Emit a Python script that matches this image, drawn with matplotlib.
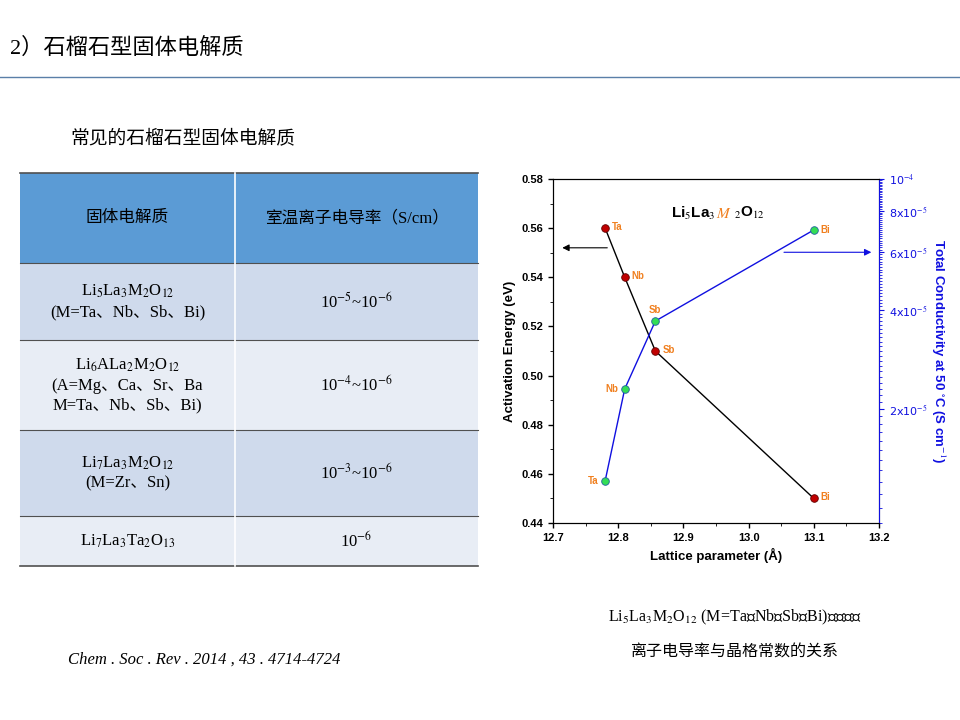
import matplotlib
matplotlib.use("Agg")
import matplotlib.pyplot as plt
from matplotlib.patches import Rectangle
from matplotlib.ticker import FixedLocator, NullFormatter

plt.rcParams["mathtext.fontset"] = "stix"
CN = ["Liberation Serif", "Noto Sans CJK SC"]
SANS = ["Liberation Sans", "DejaVu Sans"]

# ---- data ----
elements = ["Ta", "Nb", "Sb", "Bi"]
lattice = [12.78, 12.81, 12.857, 13.1]
act_energy = [0.56, 0.54, 0.51, 0.45]
conductivity = [1.21e-5, 2.3e-5, 3.7e-5, 7.0e-5]

table_header = ["固体电解质", "室温离子电导率（S/cm）"]
table_col1 = [
    "Li$_5$La$_3$M$_2$O$_{12}$\n(M=Ta、Nb、Sb、Bi)",
    "Li$_6$ALa$_2$M$_2$O$_{12}$\n(A=Mg、Ca、Sr、Ba\nM=Ta、Nb、Sb、Bi)",
    "Li$_7$La$_3$M$_2$O$_{12}$\n(M=Zr、Sn)",
    "Li$_7$La$_3$Ta$_2$O$_{13}$",
]
table_col2 = ["10$^{-5}$~10$^{-6}$", "10$^{-4}$~10$^{-6}$", "10$^{-3}$~10$^{-6}$", "10$^{-6}$"]

fig = plt.figure(figsize=(9.6, 7.2), dpi=100)
bg = fig.add_axes([0, 0, 1, 1])
bg.set_xlim(0, 960)
bg.set_ylim(720, 0)
bg.axis("off")

# title
bg.text(10, 48, "2）石榴石型固体电解质", fontsize=16, family=CN, va="center", ha="left")
bg.plot([0, 960], [77, 77], color="#5A7FA8", lw=1)
bg.text(70, 138, "常见的石榴石型固体电解质", fontsize=13.5, family=CN, va="center")

# table
rows = [173, 263, 340, 430, 516, 566]
x0, xm, x1 = 20, 235, 478
bg.add_patch(Rectangle((x0, rows[0]), x1 - x0, rows[1] - rows[0], fc="#5B9BD5", ec="none"))
fills = ["#CFDAEC", "#E8EDF5", "#CFDAEC", "#E8EDF5"]
for i in range(4):
    bg.add_patch(Rectangle((x0, rows[i + 1]), x1 - x0, rows[i + 2] - rows[i + 1],
                           fc=fills[i], ec="none"))
for y in rows:
    bg.plot([x0, x1], [y, y], color="#505050", lw=1.2 if y in (rows[0], rows[-1]) else 0.8)
bg.plot([xm, xm], [rows[0], rows[-1]], color="white", lw=1.2)
bg.text((x0 + xm) / 2, (rows[0] + rows[1]) / 2, table_header[0], family=CN, fontsize=12,
        ha="center", va="center")
bg.text((xm + x1) / 2, (rows[0] + rows[1]) / 2, table_header[1], family=CN, fontsize=12,
        ha="center", va="center")
for i in range(4):
    yc = (rows[i + 1] + rows[i + 2]) / 2
    bg.text((x0 + xm) / 2, yc, table_col1[i], family=CN, fontsize=12, ha="center",
            va="center", linespacing=1.3)
    bg.text((xm + x1) / 2, yc, table_col2[i], family=CN, fontsize=12, ha="center", va="center")

bg.text(68, 660, "Chem . Soc . Rev . 2014 , 43 . 4714-4724", family=CN, fontsize=12,
        style="italic", va="center")
bg.text(735, 617, "Li$_5$La$_3$M$_2$O$_{12}$ (M=Ta、Nb、Sb、Bi)活化能、", family=CN,
        fontsize=11.5, ha="center", va="center")
bg.text(735, 653, "离子电导率与晶格常数的关系", family=CN, fontsize=11.5, ha="center", va="center")

# chart
ax = fig.add_axes([553 / 960, 197 / 720, 326 / 960, 344 / 720])
ax.plot(lattice, act_energy, color="black", lw=1, zorder=2)
ax.scatter(lattice, act_energy, s=30, color="#C00000", edgecolors="#600000", lw=0.6, zorder=3)
ax.set_xlim(12.7, 13.2)
ax.set_ylim(0.44, 0.58)
ax.set_xticks([12.7, 12.8, 12.9, 13.0, 13.1, 13.2])
ax.set_xticks([12.75, 12.85, 12.95, 13.05, 13.15], minor=True)
ax.set_yticks([0.44, 0.46, 0.48, 0.50, 0.52, 0.54, 0.56, 0.58])
ax.set_yticks([0.45, 0.47, 0.49, 0.51, 0.53, 0.55, 0.57], minor=True)
ax.tick_params(labelsize=8, width=1)
for lab in ax.get_xticklabels() + ax.get_yticklabels():
    lab.set_fontweight("bold")
    lab.set_family(SANS)
ax.set_xlabel("Lattice parameter (Å)", fontsize=9.5, fontweight="bold", family=SANS)
ax.set_ylabel("Activation Energy (eV)", fontsize=9.5, fontweight="bold", family=SANS)

ax2 = ax.twinx()
ax2.set_yscale("log")
ax2.set_ylim(9e-6, 1e-4)
ax2.plot(lattice, conductivity, color="#1010E0", lw=1, zorder=2)
ax2.scatter(lattice, conductivity, s=30, color="#33DD55", edgecolors="#2060A0", lw=0.6, zorder=3)
ax2.yaxis.set_major_locator(FixedLocator([2e-5, 4e-5, 6e-5, 8e-5, 1e-4]))
ax2.set_yticklabels(["2x10$^{-5}$", "4x10$^{-5}$", "6x10$^{-5}$", "8x10$^{-5}$", "10$^{-4}$"])
ax2.yaxis.set_minor_locator(FixedLocator([k * 1e-6 for k in range(9, 100)]))
ax2.yaxis.set_minor_formatter(NullFormatter())
ax2.tick_params(axis="y", which="both", colors="#1010E0", labelsize=8)
ax2.tick_params(axis="y", which="minor", length=2)
ax2.spines["right"].set_color("#1010E0")
ax2.set_ylabel("Total Conductivity at 50 $^{\\circ}$C (S cm$^{-1}$)", color="#1010E0",
               fontsize=9.5, fontweight="bold", family=SANS, rotation=270, labelpad=14)

lab_c = "#F08020"
for i, el in enumerate(elements):
    ax.annotate(el, (lattice[i], act_energy[i]), xytext=(5, 1), textcoords="offset points",
                fontsize=7, color=lab_c, fontweight="bold", family=SANS, va="center")
offs = [(-5, 0, "right"), (-5, 0, "right"), (0, 8, "center"), (5, 0, "left")]
for i, el in enumerate(elements):
    dx, dy, ha = offs[i]
    ax2.annotate(el, (lattice[i], conductivity[i]), xytext=(dx, dy), textcoords="offset points",
                 fontsize=7, color=lab_c, fontweight="bold", family=SANS, va="center", ha=ha)

ax.text(0.5, 0.9, r"Li$_5$La$_3$", transform=ax.transAxes, fontsize=11, fontweight="bold",
        family=SANS, ha="right", va="center")
ax.text(0.5, 0.9, r"$\mathit{M}$", transform=ax.transAxes, fontsize=11, color=lab_c,
        ha="left", va="center")
ax.text(0.555, 0.9, r"$_2$O$_{12}$", transform=ax.transAxes, fontsize=11, fontweight="bold",
        family=SANS, ha="left", va="center")
ax.annotate("", xy=(0.02, 0.8), xytext=(0.175, 0.8), xycoords="axes fraction",
            arrowprops=dict(arrowstyle="-|>", color="black", lw=0.8))
ax.annotate("", xy=(0.985, 0.787), xytext=(0.7, 0.787), xycoords="axes fraction",
            arrowprops=dict(arrowstyle="-|>", color="#1010E0", lw=0.8))

fig.savefig("out.png", dpi=100)
